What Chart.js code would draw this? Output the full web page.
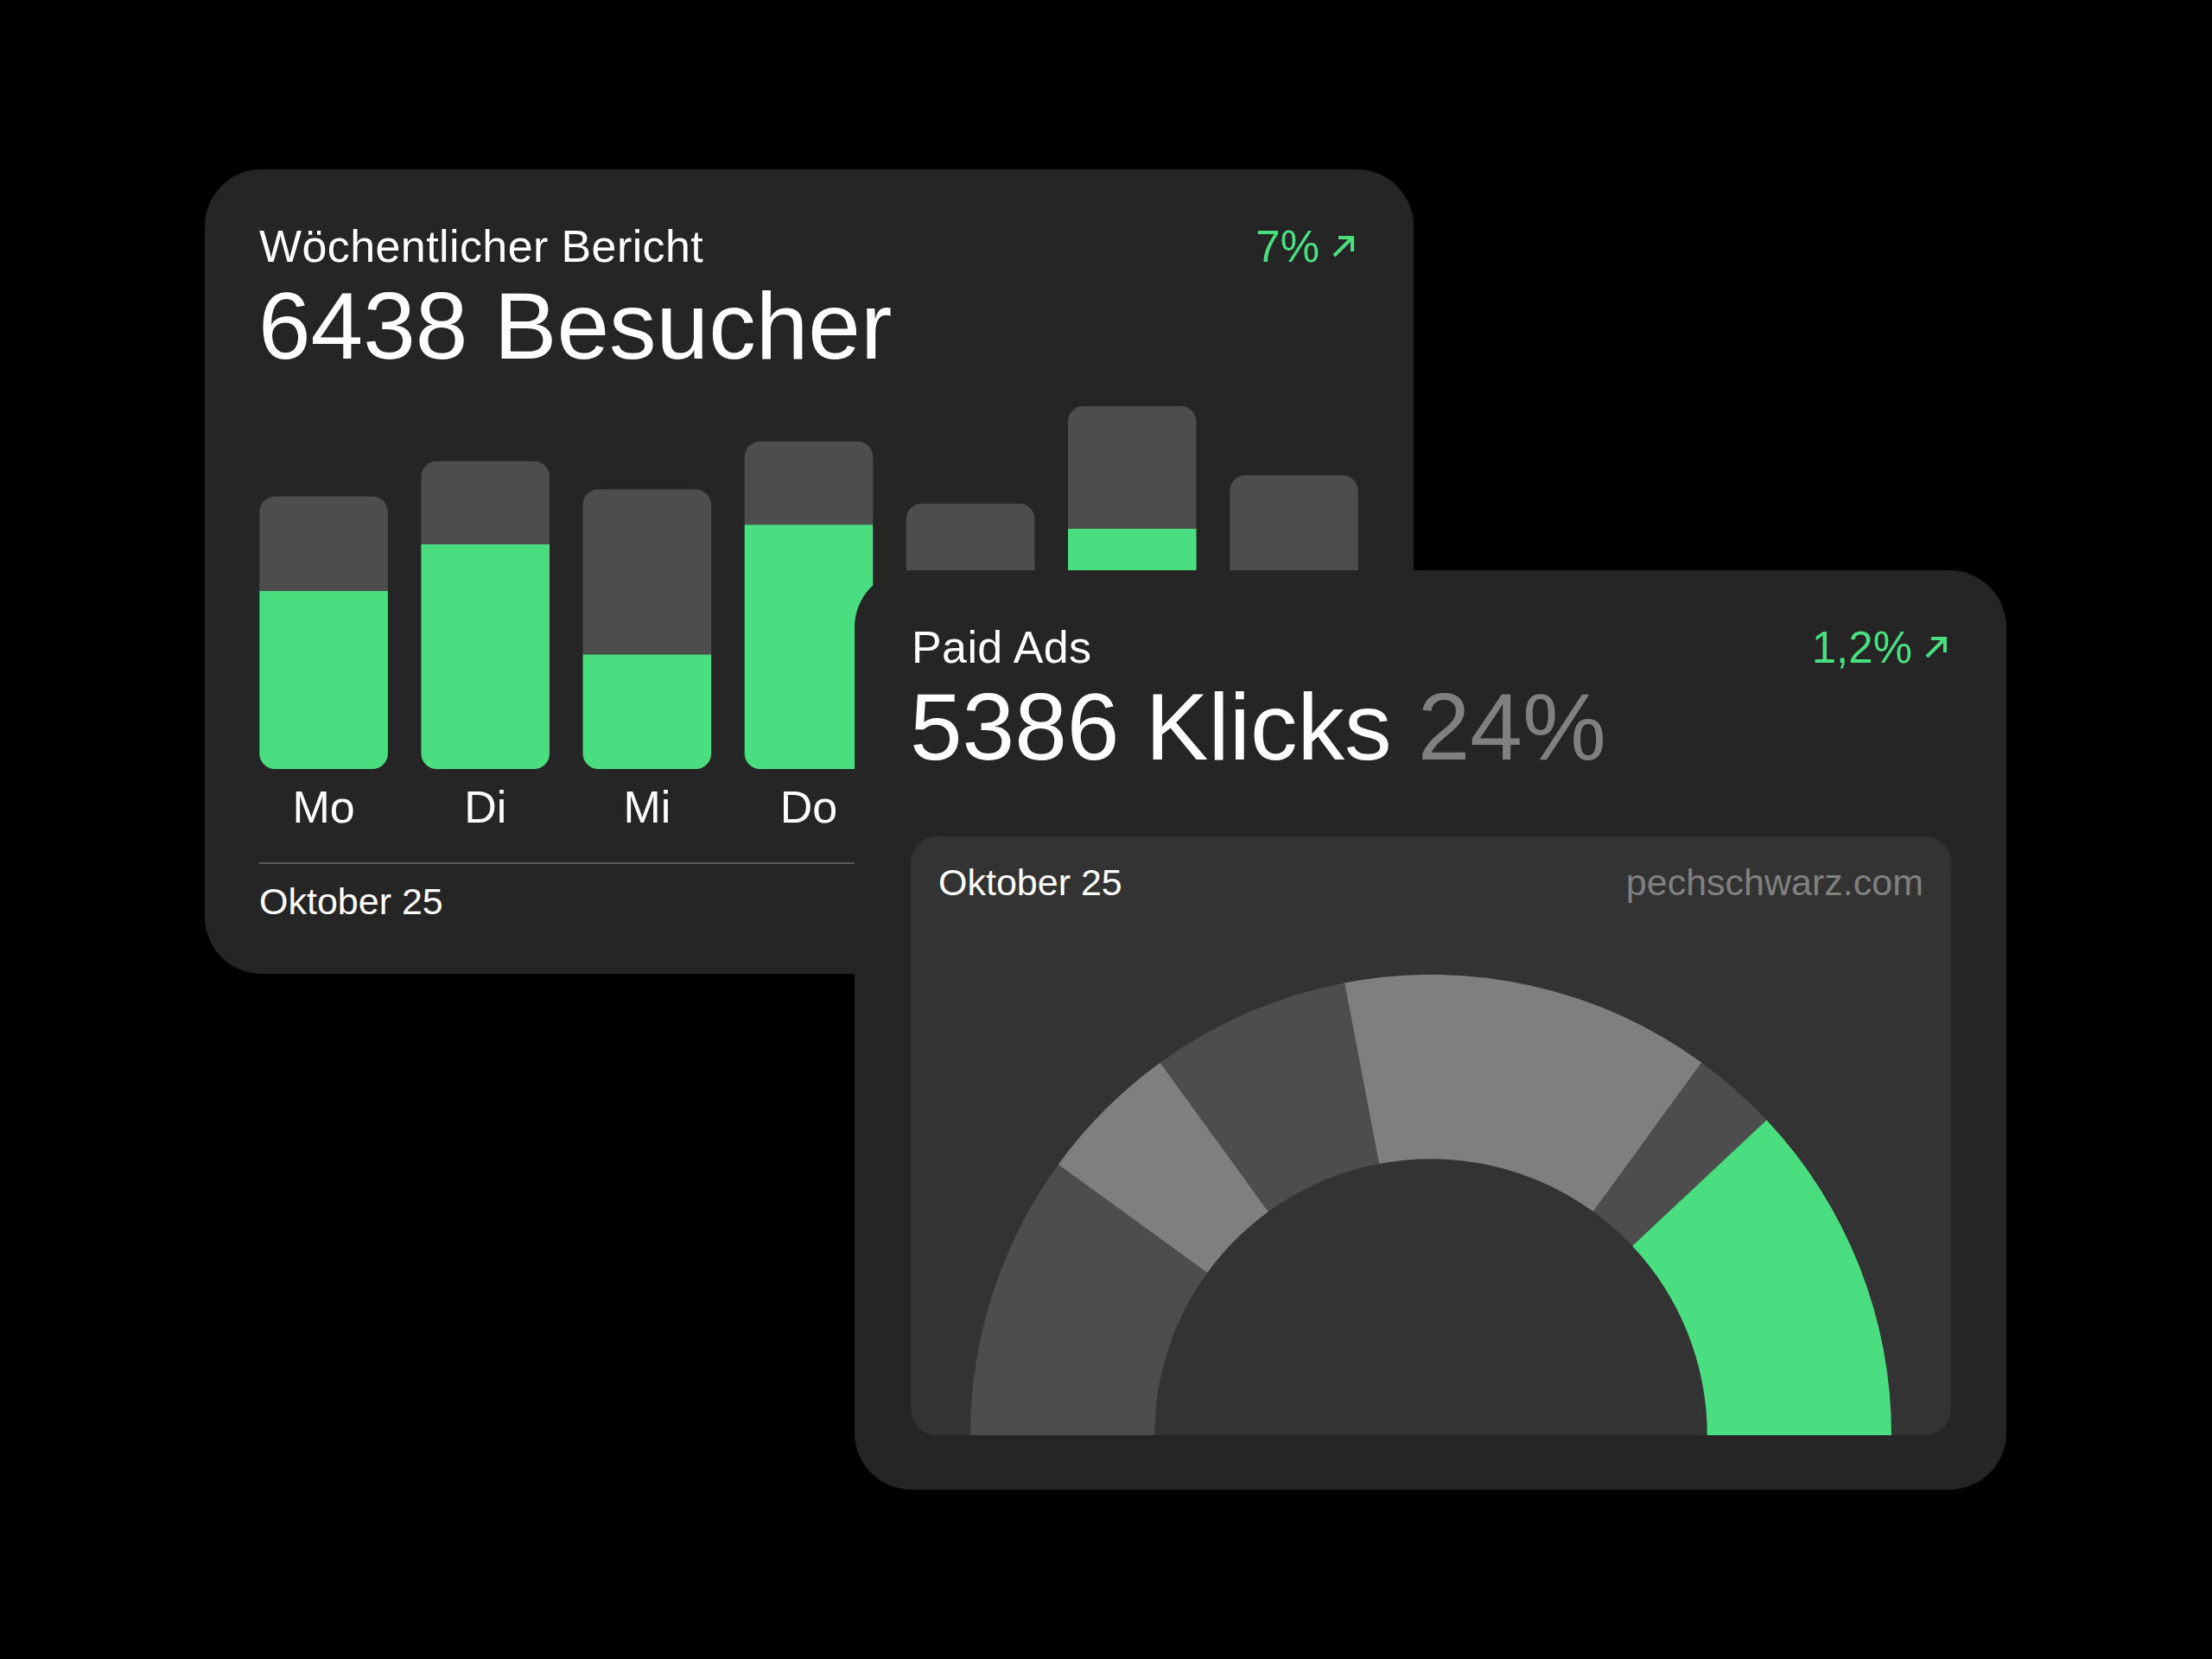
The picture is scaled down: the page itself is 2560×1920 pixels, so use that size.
<!DOCTYPE html>
<html lang="de">
<head>
<meta charset="utf-8">
<title>Wöchentlicher Bericht</title>
<script src="https://cdn.jsdelivr.net/npm/chart.js@4/dist/chart.umd.min.js"></script>
<style>
  html, body { margin: 0; padding: 0; background: #000; }
  body { width: 2560px; height: 1920px; position: relative; overflow: hidden;
         font-family: "Liberation Sans", Arial, sans-serif; color: #fff; }
  .card { position: absolute; background: #252525; border-radius: 66px; }
  #card1 { left: 237px; top: 196px; width: 1399px; height: 931px; }
  #card2 { left: 989px; top: 660px; width: 1333px; height: 1064px; }
  .t { position: absolute; line-height: 1; white-space: nowrap; }
  .title { font-size: 52px; letter-spacing: 0.4px; top: 63px; }
  .big { font-size: 109px; top: 127px; }
  .trend { font-size: 51px; top: 64px; right: 68px; color: #4bde80; }
  .trend svg { margin-left: 14px; vertical-align: 4px; }
  .grey { color: #808080; }
  #bars { position: absolute; left: 44px; top: 269px; width: 1310px; height: 525px; }
  .divider { position: absolute; left: 63px; top: 802px; width: 1271px; height: 2px; background: #5a5a5a; }
  .small { font-size: 43px; }
  #panel { position: absolute; left: 65px; top: 308px; width: 1204px; height: 693px;
           background: #333; border-radius: 30px; overflow: hidden; }
  #gaugeBox { position: absolute; left: 69px; top: 160px; width: 1066px; height: 533px; }
</style>
</head>
<body>

<div class="card" id="card1">
  <div class="t title" style="left:63px">Wöchentlicher Bericht</div>
  <div class="t trend">7%<svg width="27" height="27" viewBox="0 0 27 27"><path d="M3 24 L24 3 M8 3 H24 V19" fill="none" stroke="#4bde80" stroke-width="4"/></svg></div>
  <div class="t big" style="left:62px">6438 Besucher</div>
  <div id="bars"><canvas id="barChart"></canvas></div>
  <div class="divider"></div>
  <div class="t small" style="left:63px; top:826px">Oktober 25</div>
</div>

<div class="card" id="card2">
  <div class="t title" style="left:66px">Paid Ads</div>
  <div class="t trend">1,2%<svg width="27" height="27" viewBox="0 0 27 27"><path d="M3 24 L24 3 M8 3 H24 V19" fill="none" stroke="#4bde80" stroke-width="4"/></svg></div>
  <div class="t big" style="left:64px">5386 Klicks <span class="grey">24%</span></div>
  <div id="panel">
    <div class="t small" style="left:32px; top:32px">Oktober 25</div>
    <div class="t small grey" style="right:32px; top:32px">pechschwarz.com</div>
    <div id="gaugeBox"><canvas id="gauge"></canvas></div>
  </div>
</div>

<script>
// ---- Daten ----
var tage = ['Mo', 'Di', 'Mi', 'Do', 'Fr', 'Sa', 'So'];
var besucherGruen = [126, 159, 81, 173, 110, 170, 120];
var besucherGrau = [67, 59, 117, 59, 78, 87, 88];
var yMax = 260;

var kanaele = ['Kanal A', 'Kanal B', 'Kanal C', 'Kanal D', 'Kanal E', 'Paid Ads'];
var kanalAnteile = [20, 10, 14, 26, 6, 24];

// ---- Farben ----
var gruen = '#4bde80';
var dunkelgrau = '#4d4d4d';
var hellgrau = '#7f7f7f';
var schrift = '"Liberation Sans", Arial, sans-serif';

Chart.defaults.font.family = schrift;
Chart.defaults.animation = false;

// Balkendiagramm: gruen unten, grau oben gestapelt
var barChart = new Chart(document.getElementById('barChart').getContext('2d'), {
  type: 'bar',
  data: {
    labels: tage,
    datasets: [{
      data: besucherGruen,
      backgroundColor: gruen,
      borderSkipped: false,
      borderRadius: { topLeft: 0, topRight: 0, bottomLeft: 18, bottomRight: 18 }
    }, {
      data: besucherGrau,
      backgroundColor: dunkelgrau,
      borderSkipped: false,
      borderRadius: { topLeft: 18, topRight: 18, bottomLeft: 0, bottomRight: 0 }
    }]
  },
  options: {
    responsive: true,
    maintainAspectRatio: false,
    events: [],
    layout: { padding: 0 },
    datasets: { bar: { barPercentage: 0.794, categoryPercentage: 1 } },
    plugins: { legend: { display: false }, tooltip: { enabled: false } },
    scales: {
      x: {
        stacked: true,
        grid: { display: false, drawTicks: false },
        border: { display: false },
        ticks: { color: '#ffffff', font: { size: 52 }, padding: 16, maxRotation: 0 },
        afterFit: function (scale) { scale.height = 100; }
      },
      y: {
        stacked: true,
        display: false,
        min: 0,
        max: yMax
      }
    }
  }
});

// Halbkreis-Diagramm
var gauge = new Chart(document.getElementById('gauge').getContext('2d'), {
  type: 'doughnut',
  data: {
    labels: kanaele,
    datasets: [{
      data: kanalAnteile,
      backgroundColor: [dunkelgrau, hellgrau, dunkelgrau, hellgrau, dunkelgrau, gruen],
      borderWidth: 0
    }]
  },
  options: {
    responsive: true,
    maintainAspectRatio: false,
    events: [],
    rotation: -90,
    circumference: 180,
    cutout: '60%',
    layout: { padding: 0 },
    plugins: { legend: { display: false }, tooltip: { enabled: false } }
  }
});
</script>
</body>
</html>
